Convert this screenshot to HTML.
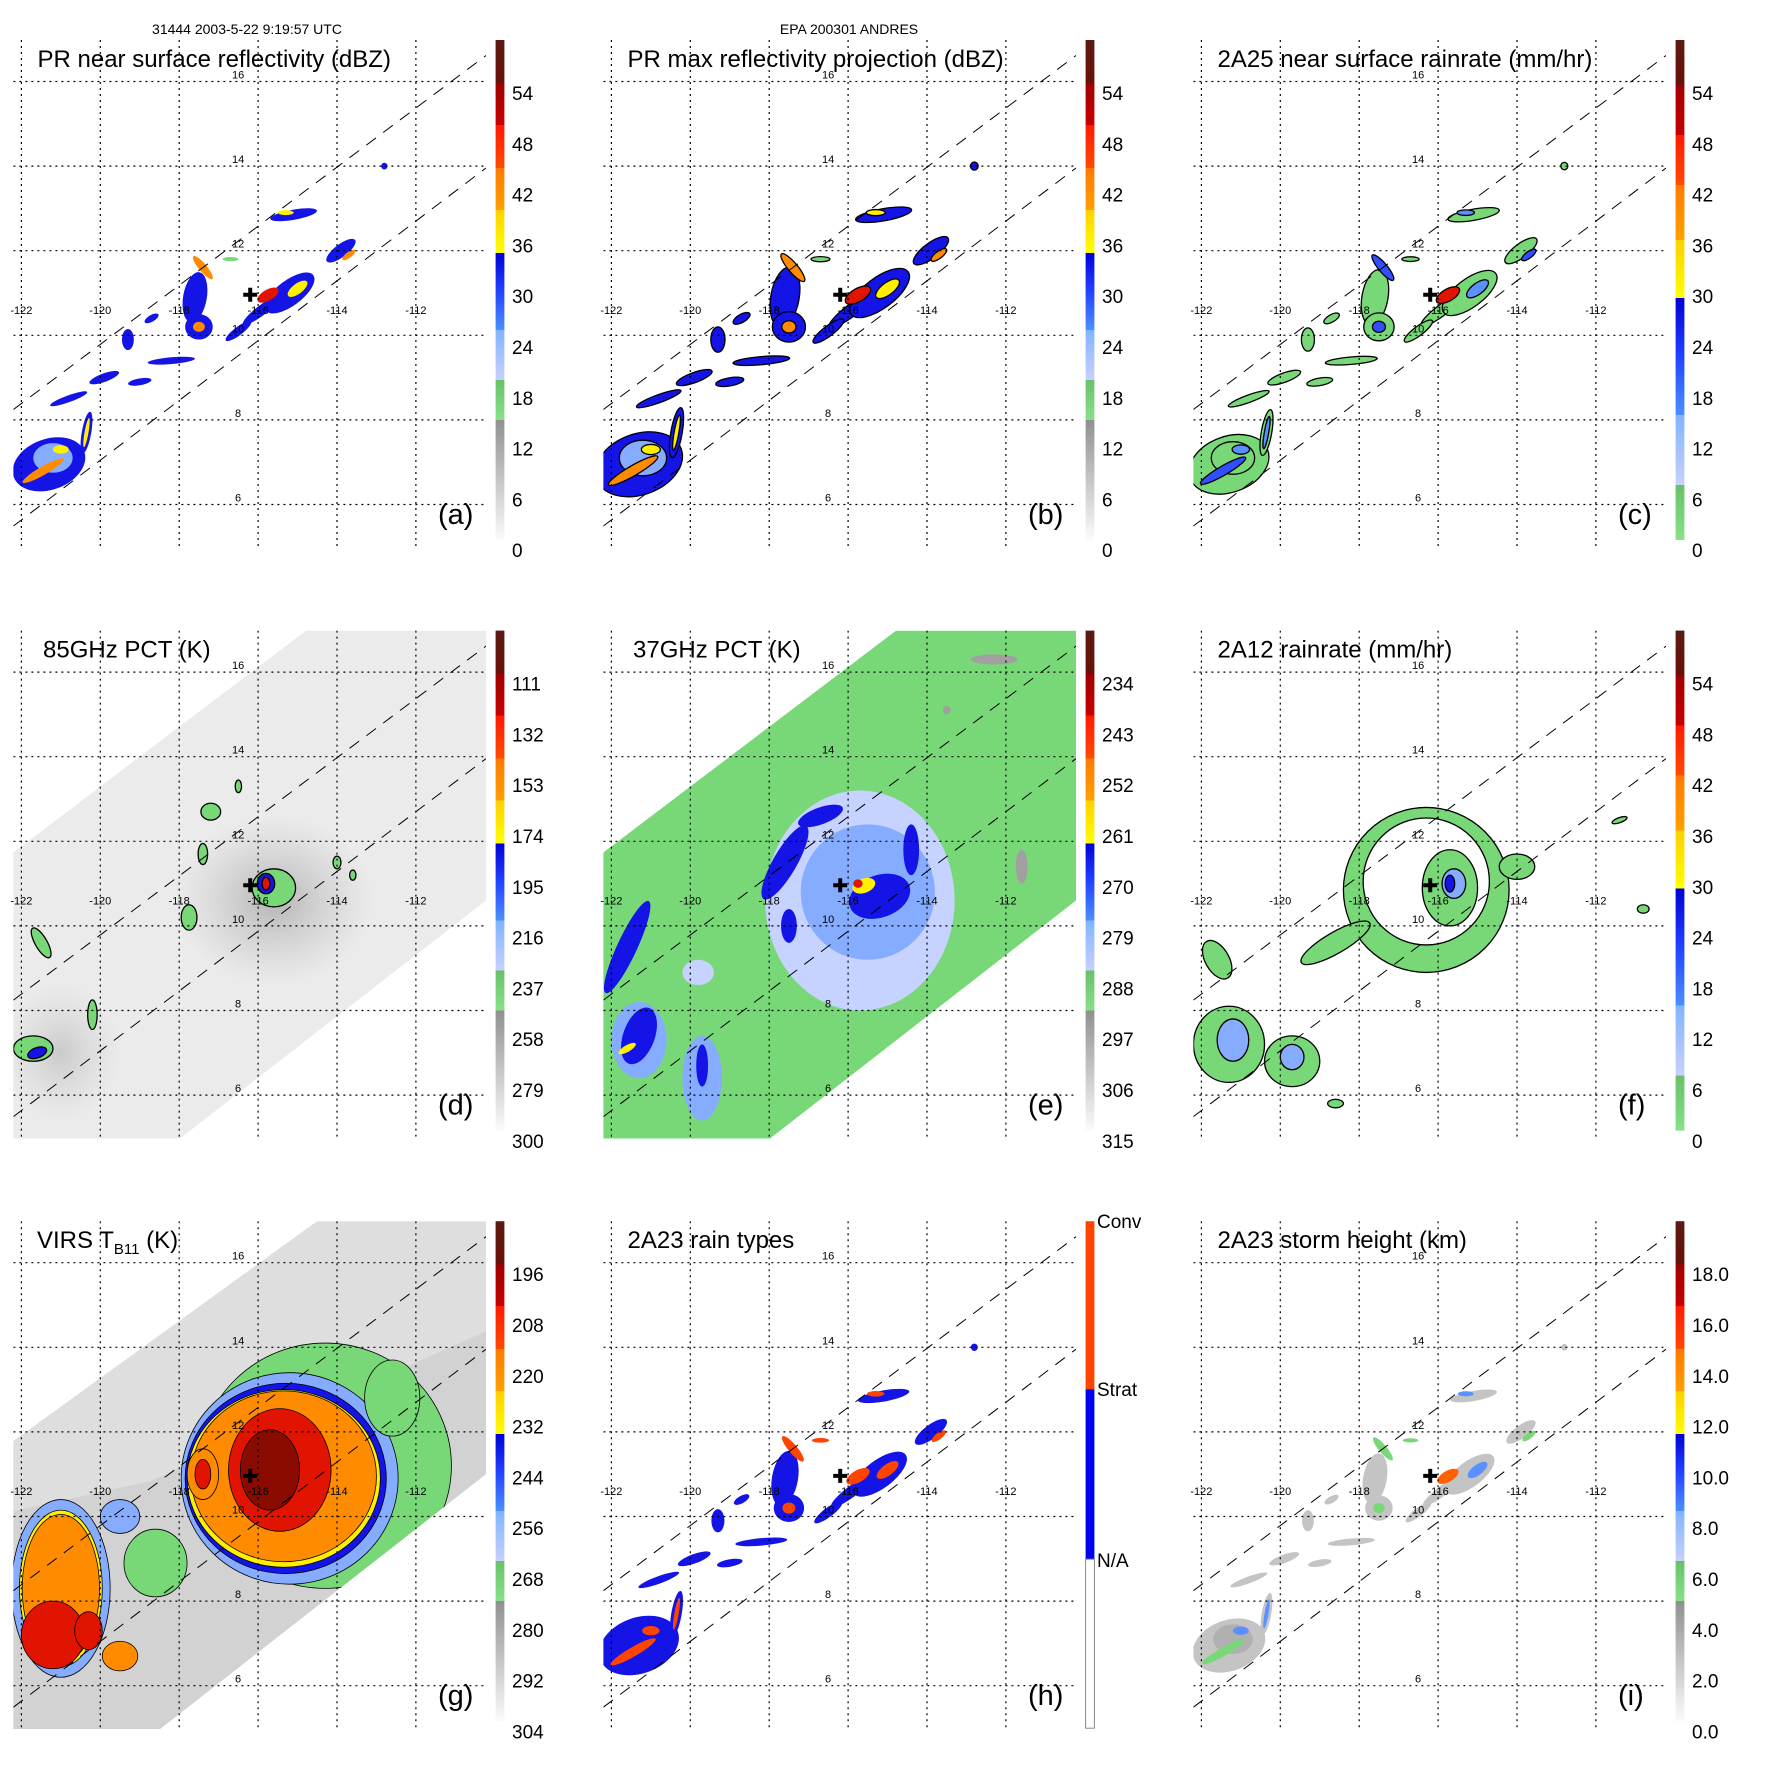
<!DOCTYPE html>
<html><head><meta charset="utf-8">
<style>
html,body{margin:0;padding:0;background:#fff;}
svg{display:block;font-family:"Liberation Sans",sans-serif;}
</style></head>
<body>
<svg id="fig" width="1771" height="1771" viewBox="0 0 1771 1771" xmlns="http://www.w3.org/2000/svg">
<defs>
<linearGradient id="cbA" x1="0" y1="0" x2="0" y2="1">
<stop offset="0" stop-color="#5a1a12"/><stop offset="0.087" stop-color="#6a1008"/>
<stop offset="0.087" stop-color="#a00000"/><stop offset="0.17" stop-color="#c80000"/>
<stop offset="0.17" stop-color="#ff1a00"/><stop offset="0.256" stop-color="#ff4a00"/>
<stop offset="0.256" stop-color="#ff7a00"/><stop offset="0.34" stop-color="#ffa000"/>
<stop offset="0.34" stop-color="#ffd000"/><stop offset="0.426" stop-color="#ffff00"/>
<stop offset="0.426" stop-color="#0000d8"/><stop offset="0.5" stop-color="#2040ff"/><stop offset="0.58" stop-color="#4a90ff"/>
<stop offset="0.58" stop-color="#80b4ff"/><stop offset="0.68" stop-color="#c8d0ff"/>
<stop offset="0.68" stop-color="#68c068"/><stop offset="0.76" stop-color="#88e088"/>
<stop offset="0.76" stop-color="#909090"/><stop offset="1" stop-color="#fbfbfb"/>
</linearGradient>
<linearGradient id="cbC" x1="0" y1="0" x2="0" y2="1">
<stop offset="0" stop-color="#5a1a12"/><stop offset="0.09" stop-color="#6a1008"/>
<stop offset="0.09" stop-color="#a00000"/><stop offset="0.19" stop-color="#c80000"/>
<stop offset="0.19" stop-color="#ff1a00"/><stop offset="0.29" stop-color="#ff4a00"/>
<stop offset="0.29" stop-color="#ff7a00"/><stop offset="0.40" stop-color="#ffa000"/>
<stop offset="0.40" stop-color="#ffd000"/><stop offset="0.516" stop-color="#ffff00"/>
<stop offset="0.516" stop-color="#0000d8"/><stop offset="0.63" stop-color="#2040ff"/><stop offset="0.75" stop-color="#4a90ff"/>
<stop offset="0.75" stop-color="#80b4ff"/><stop offset="0.89" stop-color="#c8d0ff"/>
<stop offset="0.89" stop-color="#68c068"/><stop offset="1" stop-color="#88e088"/>
</linearGradient>
<radialGradient id="glow">
<stop offset="0" stop-color="#909090" stop-opacity="0.6"/><stop offset="1" stop-color="#b0b0b0" stop-opacity="0"/>
</radialGradient>
</defs>
<text x="247" y="34" font-size="14" text-anchor="middle">31444 2003-5-22 9:19:57 UTC</text>
<text x="849" y="34" font-size="14" text-anchor="middle">EPA 200301 ANDRES</text>
</svg>
<script>
const NS='http://www.w3.org/2000/svg';
const fig=document.getElementById('fig');
const lonTicks=[-122,-120,-118,-116,-114,-112];
const latTicks=[16,14,12,10,8,6];
const stormCenter=[-116.2,10.96];
const panelTitles=['PR near surface reflectivity (dBZ)','PR max reflectivity projection (dBZ)','2A25 near surface rainrate (mm/hr)','85GHz PCT (K)','37GHz PCT (K)','2A12 rainrate (mm/hr)','VIRS T_B11 (K)','2A23 rain types','2A23 storm height (km)'];
const panelLetters=['(a)','(b)','(c)','(d)','(e)','(f)','(g)','(h)','(i)'];
const cbLabelsA=['54','48','42','36','30','24','18','12','6','0'];
const cbLabelsD=['111','132','153','174','195','216','237','258','279','300'];
const cbLabelsE=['234','243','252','261','270','279','288','297','306','315'];
const cbLabelsG=['196','208','220','232','244','256','268','280','292','304'];
const cbLabelsI=['18.0','16.0','14.0','12.0','10.0','8.0','6.0','4.0','2.0','0.0'];
// features: [lon, lat, rxDeg, ryDeg, rotDeg, colour]
const prFeatures=[
[-121.3,6.95,0.95,0.6,-20,'blue'],[-121.2,7.1,0.5,0.35,0,'lblue'],[-121.45,6.8,0.6,0.1,-30,'orange'],[-121.0,7.3,0.2,0.1,0,'yellow'],
[-120.35,7.7,0.12,0.5,10,'blue'],[-120.35,7.7,0.05,0.35,10,'yellow'],
[-117.6,10.9,0.3,0.6,10,'blue'],[-117.5,10.2,0.35,0.3,0,'blue'],[-117.5,10.2,0.15,0.12,0,'orange'],[-117.4,11.6,0.1,0.35,-40,'orange'],
[-115.1,12.85,0.6,0.12,-10,'blue'],[-115.3,12.9,0.2,0.06,0,'yellow'],
[-113.9,12.0,0.45,0.15,-37,'blue'],[-113.7,11.9,0.2,0.07,-37,'orange'],
[-118.2,9.4,0.6,0.08,-5,'blue'],[-119.3,9.9,0.15,0.25,0,'blue'],[-119.9,9.0,0.4,0.1,-20,'blue'],[-120.8,8.5,0.5,0.08,-20,'blue'],
[-119.0,8.9,0.3,0.08,-10,'blue'],[-118.7,10.4,0.2,0.08,-30,'blue'],[-116.7,11.8,0.2,0.05,0,'green'],[-112.8,14.0,0.08,0.08,0,'blue'],
[-115.9,10.6,0.6,0.12,-37,'blue'],[-116.5,10.1,0.4,0.1,-37,'blue'],
[-115.2,11.0,0.75,0.3,-37,'blue'],[-115.0,11.1,0.3,0.12,-37,'yellow'],[-115.75,10.95,0.3,0.13,-30,'red']
];
const pctFeatures=[
[-115.6,10.9,0.55,0.45,0,'green'],[-115.8,11.0,0.22,0.24,0,'blue'],[-115.8,11.0,0.1,0.15,0,'red'],
[-117.4,11.7,0.12,0.25,0,'green'],[-117.2,12.7,0.25,0.2,0,'green'],[-117.75,10.2,0.2,0.3,0,'green'],[-114.0,11.5,0.1,0.15,0,'green'],
[-121.5,9.6,0.15,0.4,-30,'green'],[-121.7,7.1,0.5,0.3,0,'green'],[-121.6,7.0,0.25,0.12,-20,'blue'],[-120.2,7.9,0.12,0.35,0,'green'],[-116.5,13.3,0.08,0.15,0,'green'],[-113.6,11.2,0.08,0.12,0,'green']
];
const e37Features=[
[-115.7,10.6,2.4,2.6,0,'vlblue'],[-115.5,10.8,1.7,1.6,0,'lblue'],[-117.6,11.5,0.3,1.0,30,'blue'],[-116.7,12.6,0.6,0.2,-20,'blue'],
[-114.4,11.8,0.2,0.6,0,'blue'],[-117.5,10.0,0.2,0.4,0,'blue'],[-115.2,10.7,0.8,0.5,-20,'blue'],[-115.6,10.95,0.3,0.17,-20,'yellow'],[-115.75,11.0,0.12,0.1,0,'red'],
[-121.6,9.5,0.25,1.2,25,'blue'],[-121.3,7.3,0.7,0.9,0,'lblue'],[-121.3,7.4,0.4,0.7,20,'blue'],[-121.6,7.1,0.25,0.08,-30,'yellow'],[-119.7,6.4,0.5,1.0,0,'lblue'],[-119.7,6.7,0.15,0.5,0,'blue'],
[-119.8,8.9,0.4,0.3,0,'vlblue'],[-112.3,16.3,0.6,0.12,0,'gray'],[-111.6,11.4,0.15,0.4,0,'gray'],[-113.5,15.1,0.1,0.1,0,'gray']
];
const f12Features=[
[-116.3,10.85,2.1,1.95,0,'green'],[-116.3,11.05,1.6,1.5,0,'white'],[-115.7,10.9,0.7,0.9,0,'green'],[-115.6,11.0,0.3,0.35,0,'lblue'],[-115.7,11.0,0.12,0.2,0,'blue'],
[-118.6,9.6,1.0,0.25,-30,'green'],[-121.3,7.2,0.9,0.9,0,'green'],[-121.2,7.3,0.4,0.5,0,'lblue'],[-119.7,6.8,0.7,0.6,0,'green'],[-119.7,6.9,0.3,0.3,0,'lblue'],
[-121.6,9.2,0.3,0.5,-30,'green'],[-114.0,11.4,0.45,0.3,0,'green'],[-111.4,12.5,0.2,0.06,-20,'green'],[-110.8,10.4,0.15,0.1,0,'green'],[-118.6,5.8,0.2,0.1,0,'green']
];
const gFeatures=[
[-114.3,11.2,3.2,2.9,0,'green'],[-115.2,10.9,2.75,2.5,0,'lblue'],[-115.3,10.9,2.55,2.25,0,'blue'],[-115.35,10.9,2.45,2.1,0,'yellow'],
[-115.35,10.95,2.35,2.02,0,'orange'],[-115.45,11.1,1.3,1.45,0,'red'],[-115.7,11.1,0.75,0.95,0,'dred'],[-117.4,11.0,0.4,0.6,0,'orange'],[-117.4,11.0,0.2,0.35,0,'red'],
[-121.0,8.3,1.25,2.1,0,'lblue'],[-121.0,8.3,1.05,1.85,0,'yellow'],[-121.0,8.3,0.98,1.75,0,'orange'],[-121.2,7.2,0.8,0.8,0,'red'],[-120.3,7.3,0.35,0.45,0,'red'],
[-119.5,6.7,0.45,0.35,0,'orange'],[-118.6,8.9,0.8,0.8,0,'green'],[-119.5,10.0,0.5,0.4,0,'lblue'],[-112.6,12.8,0.7,0.9,0,'green']
];
const colours={blue:'#1414e6',lblue:'#86acff',vlblue:'#c6d2ff',green:'#78d878',yellow:'#fff000',orange:'#ff8c00',red:'#e01400',dred:'#8a0c00',gray:'#a0a0a0',white:'#ffffff'};
function X(lon){return 21.4+(lon+122)*39.45;}
function Y(lat){return 81.5+(16-lat)*42.3;}
function el(tag,attrs,parent){const e=document.createElementNS(NS,tag);for(const k in attrs)e.setAttribute(k,attrs[k]);(parent||fig).appendChild(e);return e;}
function drawFeatures(g,list,opts){
  list.forEach(f=>{
    let c=colours[f[5]];
    if(opts.map&&opts.map[f[5]])c=opts.map[f[5]];
    const s=opts.scale||1;
    const e=el('ellipse',{cx:X(f[0]),cy:Y(f[1]),rx:f[2]*39.45*s,ry:f[3]*42.3*s,fill:c,transform:`rotate(${f[4]} ${X(f[0])} ${Y(f[1])})`},g);
    
    
    if(opts.stroke){e.setAttribute('stroke','#000');e.setAttribute('stroke-width',opts.sw||'1.3');}
  });
}
for(let p=0;p<9;p++){
  const col=p%3,row=Math.floor(p/3);
  const g=el('g',{transform:`translate(${col*590},${row*590.6})`});
  
  
  const cp=el('clipPath',{id:'clip'+p},g);
  el('rect',{x:13.4,y:40,width:472.6,height:508},cp);
  const plot=el('g',{'clip-path':`url(#clip${p})`},g);
  
  
  if(p===3||p===4||p===6){
    const pts=p===6?'317,40 486,40 486,293 160,548 13,548 13,260':'306,40 486,40 486,310 180,548 13,548 13,262';
    const sc=el('clipPath',{id:'sw'+p},g);el('polygon',{points:pts},sc);
    const sw=el('g',{'clip-path':`url(#sw${p})`},plot);
    
    
    el('polygon',{points:pts,fill:p===3?'#ebebeb':p===4?'#78d878':'#d2d2d2'},sw);
    if(p===3){
      el('ellipse',{cx:X(-115.6),cy:Y(10.6),rx:100,ry:85,fill:'url(#glow)'},sw);
      el('ellipse',{cx:X(-121),cy:Y(7),rx:60,ry:70,fill:'url(#glow)','opacity':0.6},sw);
      drawFeatures(sw,pctFeatures,{stroke:true});
    }
    if(p===4)drawFeatures(sw,e37Features,{});
    if(p===6){
      el('polygon',{points:'317,40 486,40 486,150 150,300 13,330 13,260',fill:'#dedede'},sw);
      drawFeatures(sw,gFeatures,{stroke:true,sw:'0.8'});
    }
  }
  if(p===0)drawFeatures(plot,prFeatures,{});
  if(p===1)drawFeatures(plot,prFeatures,{scale:1.2,stroke:true});
  if(p===2)drawFeatures(plot,prFeatures,{scale:1.1,stroke:true,map:{blue:'#78d878',lblue:'#78d878',yellow:'#5a90ff',orange:'#3050ff',red:'#e01400'}});
  if(p===5)drawFeatures(plot,f12Features,{stroke:true});
  if(p===7)drawFeatures(plot,prFeatures,{scale:1.1,map:{lblue:'#1414e6',green:'#ff4400',yellow:'#ff4400',orange:'#ff4400',red:'#ff4400'}});
  if(p===8)drawFeatures(plot,prFeatures,{map:{blue:'#c4c4c4',lblue:'#b0b0b0',orange:'#78d878',yellow:'#5a90ff',red:'#ff6000'}});
  lonTicks.forEach(lon=>{const l=el('line',{x1:X(lon),x2:X(lon),y1:40,y2:548,stroke:'#000','stroke-width':1.2,'stroke-dasharray':'2 4'},plot);
    });
  latTicks.forEach(lat=>{const l=el('line',{x1:13.4,x2:486,y1:Y(lat),y2:Y(lat),stroke:'#000','stroke-width':1.2,'stroke-dasharray':'2 4'},plot);
    });
  [[409.5,55.5],[526,168]].forEach(e=>{const l=el('line',{x1:13.4,y1:e[0],x2:486,y2:e[1],stroke:'#000','stroke-width':1,'stroke-dasharray':'12 9'},plot);
    });
  lonTicks.forEach(lon=>{const t=el('text',{x:X(lon),y:314,'font-size':11,'text-anchor':'middle'},g);t.textContent=String(lon);
    });
  latTicks.forEach(lat=>{const t=el('text',{x:X(-116)-20,y:Y(lat)-3,'font-size':11,'text-anchor':'middle'},g);t.textContent=String(lat);
    });
  const cx=X(stormCenter[0]),cy=Y(stormCenter[1]);
  const m=el('path',{d:`M${cx-7} ${cy}H${cx+7}M${cx} ${cy-7}V${cy+7}`,stroke:'#000','stroke-width':4},g);
  
  let title;
  if(p===6){title=el('text',{x:37,y:67,'font-size':24},g);
    title.innerHTML='VIRS T<tspan font-size="15" dy="6">B11</tspan><tspan dy="-6"> (K)</tspan>';}
  else{const tx=(p===3||p===4)?43:37.5;title=el('text',{x:tx,y:67,'font-size':24},g);title.textContent=panelTitles[p];}
  
  const lt=el('text',{x:438,y:524,'font-size':29},g);lt.textContent=panelLetters[p];
  
  if(p===7){
    const cb=el('g',{},g);
    el('rect',{x:495.6,y:40,width:8.8,height:168,fill:'#ff4400'},cb);
    el('rect',{x:495.6,y:208,width:8.8,height:170,fill:'#0000f0'},cb);
    el('rect',{x:495.6,y:378,width:8.8,height:169,fill:'#fff',stroke:'#888','stroke-width':1},cb);
    [['Conv',47],['Strat',215],['N/A',386]].forEach(a=>{const t=el('text',{x:507,y:a[1],'font-size':19},g);t.textContent=a[0];
      });
  } else {
    const r=el('rect',{x:495.6,y:40,width:8.8,height:500,fill:(p===2||p===5)?'url(#cbC)':'url(#cbA)'},g);
    
    const labs=p===3?cbLabelsD:p===4?cbLabelsE:p===6?cbLabelsG:p===8?cbLabelsI:cbLabelsA;
    labs.forEach((s,i)=>{const t=el('text',{x:512,y:93+50.8*i+7,'font-size':19},g);t.textContent=s;
      });
  }
}
</script>
</body></html>
